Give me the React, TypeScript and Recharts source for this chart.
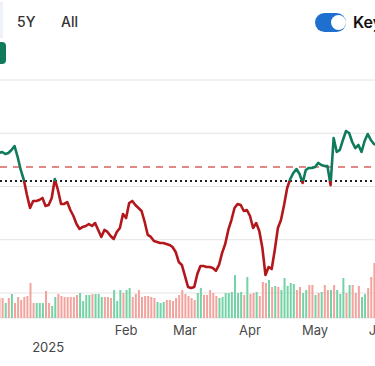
import React from 'react';
import { ComposedChart, Line, Bar, Cell, XAxis, YAxis, CartesianGrid, ReferenceLine } from 'recharts';

// daily closing prices (trading-day index 0 = early Dec 2024)
const prices = [
  53.15, 53.24, 53.05, 53.15, 53.43, 53.8, 52.77, 51.55, 50.61, 49.2,
  47.98, 48.64, 48.64, 48.73, 48.92, 48.17, 48.26, 48.92, 50.7, 49.67,
  48.36, 48.36, 48.54, 47.79, 47.23, 46.48, 46.01, 46.2, 46.29, 46.48,
  46.29, 46.57, 45.92, 45.26, 45.92, 45.73, 45.35, 45.07, 45.73, 46.1,
  47.42, 47.04, 48.45, 48.64, 48.26, 47.98, 47.7, 46.67, 45.45, 45.26,
  44.88, 44.79, 44.69, 44.69, 44.6, 44.51, 44.32, 43.85, 42.91, 42.63,
  41.6, 40.56, 40.47, 40.56, 41.78, 42.53, 42.53, 42.44, 42.44, 42.35,
  42.07, 42.63, 43.76, 44.6, 45.92, 46.85, 47.98, 48.36, 48.26, 47.7,
  47.79, 47.23, 46.1, 46.57, 45.82, 44.22, 41.69, 42.44, 42.25, 44.04,
  46.1, 46.85, 48.26, 49.86, 50.7, 51.27, 51.64, 51.17, 50.33, 51.55,
  51.74, 51.74, 51.83, 52.21, 52.02, 51.92, 51.92, 50.13, 54.55, 53.24,
  53.43, 54.37, 55.21, 55.02, 54.18, 53.61, 53.9, 53.24, 54.27, 54.93,
  54.37, 53.99, 53.9,
];

// daily volume (millions)
const volumes = [
  10, 10, 7.5, 10, 12, 7.5, 10.5, 9, 10.5, 11,
  17.5, 7.5, 7.5, 7.5, 7.5, 13.5, 7.5, 6, 10.5, 12,
  11, 10.5, 10.5, 10.5, 10.5, 11.5, 12.5, 8.5, 11.5, 11.5,
  12, 12, 12, 10.5, 10.5, 10.5, 10, 14, 8.5, 14,
  12.5, 14, 15, 10.5, 12, 14, 10.5, 11, 11, 10.5,
  10, 8, 7.5, 8, 9, 9, 8.5, 10, 11.5, 14,
  12, 11, 10, 9, 12.5, 15, 11.5, 11.5, 14, 12.5,
  11, 10, 10.5, 12.5, 12.5, 13, 21.5, 12.5, 13, 11.5,
  20.5, 12, 12.5, 13, 11, 18, 17.5, 19, 15.5, 16,
  15.5, 14, 20, 16, 17.5, 17, 14, 15.5, 12.5, 14,
  16.5, 16.5, 11.5, 12.5, 13, 16.5, 14, 14, 16.5, 14,
  12, 20, 12.5, 16.5, 16.5, 12.5, 16, 10.5, 12, 15,
  20.5, 27.5, 20,
];

// u = up day, d = down day
const volumeDirs = (
  'ddududdddd' + 'dduuudduud' + 'dddddduuuu' + 'duuuddduuu' + 'duuddddddd' +
  'duuudddddd' + 'dddduudddd' + 'duuuuuuuud' + 'uddudddudu' + 'duuuuudduu' +
  'ddududdudu' + 'uududdduud' + 'ddd'
).split('');

const baselinePrice = 50.52; // previous close (dotted)
const targetPrice = 51.83; // dashed reference

const priceTicks = [40, 45, 50, 55, 60];
const monthTicks = [21, 41, 60, 81, 102, 123];
const monthLabels = ['', 'Feb', 'Mar', 'Apr', 'May', 'Jun'];
const yearTick = 21;
const yearLabel = '2025';

const data = prices.map((p, i) => ({ i, price: p, volume: volumes[i], dir: volumeDirs[i] }));

const maxP = Math.max(...prices);
const minP = Math.min(...prices);
const splitOffset = (maxP - baselinePrice) / (maxP - minP);

const GREEN = '#0f7a5c';
const RED = '#b3171c';

const MonthTick = (props: any) => {
  const { x, y, payload } = props;
  const idx = monthTicks.indexOf(payload.value);
  const label = idx >= 0 ? monthLabels[idx] : '';
  return (
    <g>
      {label ? (
        <text x={x} y={y} dy={17} textAnchor="middle" fill="#4a4a4a" fontSize={13} fontFamily="Inter, Roboto, sans-serif">
          {label}
        </text>
      ) : null}
      {payload.value === yearTick ? (
        <text x={x} y={y} dy={34} textAnchor="end" fill="#444" fontSize={13} fontFamily="Inter, Roboto, sans-serif">
          {yearLabel}
        </text>
      ) : null}
    </g>
  );
};

export default function App() {
  return (
    <div
      style={{
        position: 'absolute',
        left: 0,
        top: 0,
        width: 375,
        height: 366,
        overflow: 'hidden',
        background: '#fff',
        fontFamily: 'Inter, Roboto, sans-serif',
      }}
    >
      <div style={{ position: 'absolute', left: 0, top: 2, width: 3, height: 36, background: '#eef3fa' }} />
      <div style={{ position: 'absolute', left: 17, top: 13, fontSize: 14, fontWeight: 500, color: '#333' }}>5Y</div>
      <div style={{ position: 'absolute', left: 61, top: 13, fontSize: 14, fontWeight: 500, color: '#333' }}>All</div>
      <div style={{ position: 'absolute', left: -4, top: 42, width: 10, height: 22, borderRadius: 4, background: GREEN }} />
      <div style={{ position: 'absolute', left: 315, top: 13, width: 31, height: 19, borderRadius: 10, background: '#1f6fd1' }} />
      <div style={{ position: 'absolute', left: 331, top: 15, width: 15, height: 15, borderRadius: 8, background: '#fff' }} />
      <div style={{ position: 'absolute', left: 353, top: 12, fontSize: 16, fontWeight: 600, color: '#111', whiteSpace: 'nowrap' }}>
        Key events
      </div>
      <div style={{ position: 'absolute', left: 0, top: 0 }}>
        <ComposedChart width={375} height={366} data={data} margin={{ top: 80, right: 0, bottom: 0, left: 0 }}>
          <defs>
            <linearGradient id="priceSplit" x1="0" y1="0" x2="0" y2="1">
              <stop offset={0} stopColor={GREEN} />
              <stop offset={splitOffset} stopColor={GREEN} />
              <stop offset={splitOffset} stopColor={RED} />
              <stop offset={1} stopColor={RED} />
            </linearGradient>
          </defs>
          <CartesianGrid yAxisId="price" vertical={false} stroke="#e4e4e4" strokeWidth={1} />
          <XAxis
            dataKey="i"
            type="number"
            domain={[0.3, 121.35]}
            allowDataOverflow
            ticks={monthTicks}
            interval={0}
            tick={<MonthTick />}
            tickLine={false}
            axisLine={false}
            tickSize={0}
            tickMargin={0}
            height={48}
          />
          <YAxis yAxisId="price" hide domain={[37.65, 60]} ticks={priceTicks} allowDataOverflow />
          <YAxis yAxisId="vol" hide domain={[0, 119]} allowDataOverflow />
          <Bar yAxisId="vol" dataKey="volume" barSize={2} isAnimationActive={false}>
            {data.map((d, k) => (
              <Cell key={k} fill={d.dir === 'u' ? '#74d3a6' : '#f3a39d'} />
            ))}
          </Bar>
          <ReferenceLine yAxisId="price" y={targetPrice} stroke="#d9625c" strokeWidth={1.3} strokeDasharray="7 6" />
          <ReferenceLine yAxisId="price" y={baselinePrice} stroke="#222" strokeWidth={2} strokeDasharray="2 3" />
          <Line
            yAxisId="price"
            type="linear"
            dataKey="price"
            stroke="url(#priceSplit)"
            strokeWidth={2.6}
            dot={false}
            isAnimationActive={false}
            strokeLinejoin="round"
          />
        </ComposedChart>
      </div>
    </div>
  );
}
